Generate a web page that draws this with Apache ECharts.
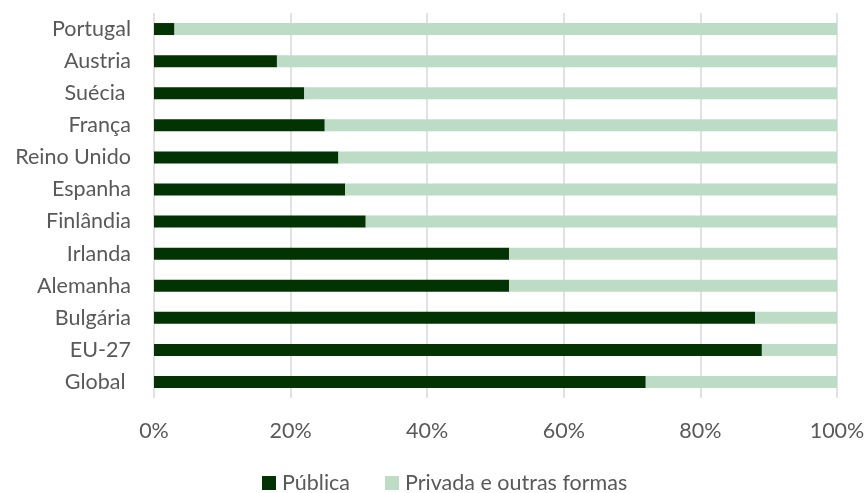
<!DOCTYPE html>
<html>
<head>
<meta charset="utf-8">
<script src="https://cdn.jsdelivr.net/npm/echarts@6/dist/echarts.min.js"></script>
<style>
  html, body { margin: 0; padding: 0; background: #ffffff; }
  #chart { width: 868px; height: 493px; }
</style>
</head>
<body>
<div id="chart"></div>
<script>
// Share of funding by country (%), top to bottom
const categories = ['Portugal', 'Austria', 'Suécia ', 'França', 'Reino Unido', 'Espanha',
  'Finlândia', 'Irlanda', 'Alemanha', 'Bulgária', 'EU-27', 'Global '];
const publica = [3, 18, 22, 25, 27, 28, 31, 52, 52, 88, 89, 72];
const privada = [97, 82, 78, 75, 73, 72, 69, 48, 48, 12, 11, 28];
const seriesNames = ['Pública', 'Privada e outras formas'];
const xTicks = [0, 20, 40, 60, 80, 100];

const FONT = 'Lato';
const TEXT = '#595959';
const SIZE = 21.5;

const chart = echarts.init(document.getElementById('chart'), null, { renderer: 'canvas' });
chart.setOption({
  animation: false,
  backgroundColor: '#ffffff',
  grid: { left: 154, right: 31, top: 13, bottom: 95, containLabel: false },
  legend: {
    data: seriesNames,
    left: 257,
    top: 467,
    itemWidth: 14,
    itemHeight: 14,
    itemGap: 35,
    icon: 'rect',
    textStyle: { color: TEXT, fontFamily: FONT, fontSize: SIZE, padding: [0, 0, 0, 1] }
  },
  xAxis: {
    type: 'value',
    min: xTicks[0],
    max: xTicks[xTicks.length - 1],
    interval: 20,
    axisLine: { show: false },
    axisTick: { show: false },
    splitLine: { show: true, lineStyle: { color: '#d9d9d9', width: 1.5 } },
    axisLabel: {
      color: TEXT, fontFamily: FONT, fontSize: SIZE, margin: 22,
      formatter: v => v + '%'
    }
  },
  yAxis: {
    type: 'category',
    data: categories,
    inverse: true,
    axisLine: { show: false },
    axisTick: { show: false },
    axisLabel: { color: TEXT, fontFamily: FONT, fontSize: SIZE, margin: 23 }
  },
  series: [
    {
      name: seriesNames[0], type: 'bar', stack: 'total', data: publica,
      barWidth: 12, itemStyle: { color: '#033303' }
    },
    {
      name: seriesNames[1], type: 'bar', stack: 'total', data: privada,
      barWidth: 12, itemStyle: { color: '#bddcc6' }
    }
  ]
});
</script>
</body>
</html>
